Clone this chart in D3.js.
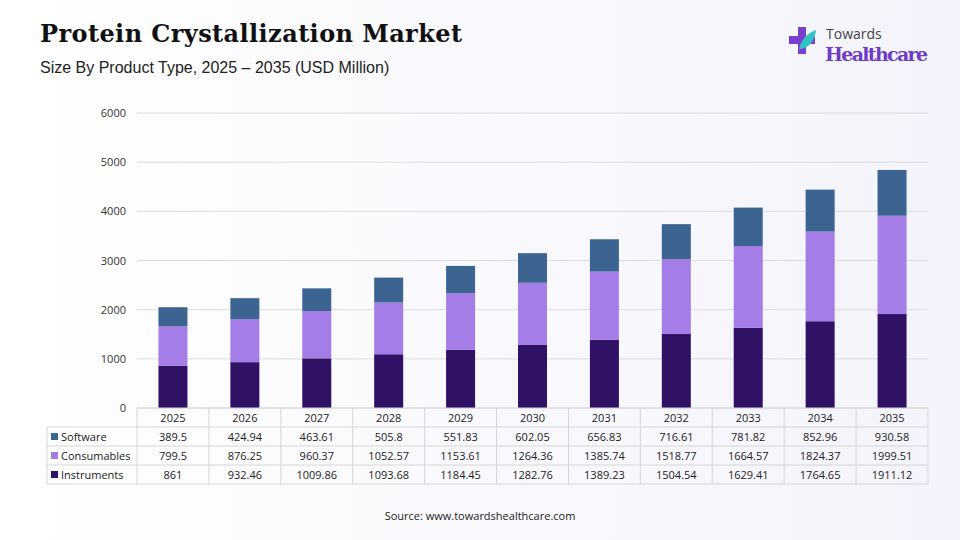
<!DOCTYPE html>
<html><head><meta charset="utf-8">
<script src="https://cdn.jsdelivr.net/npm/d3@7"></script>
<style>body{margin:0;background:#fff}svg{display:block;font-family:"Segoe UI","Open Sans",sans-serif}</style>
</head><body><svg width="960" height="540"></svg>
<script>
const years = ['2025','2026','2027','2028','2029','2030','2031','2032','2033','2034','2035'];
const software = [389.5,424.94,463.61,505.8,551.83,602.05,656.83,716.61,781.82,852.96,930.58];
const consumables = [799.5,876.25,960.37,1052.57,1153.61,1264.36,1385.74,1518.77,1664.57,1824.37,1999.51];
const instruments = [861,932.46,1009.86,1093.68,1184.45,1282.76,1389.23,1504.54,1629.41,1764.65,1911.12];
const seriesNames = ['Software','Consumables','Instruments'];
const colors = ['#3b6590','#a57de6','#2f1266'];
const yTicks = [0,1000,2000,3000,4000,5000,6000];

const svg = d3.select('svg');
const defs = svg.append('defs');
const bg = defs.append('linearGradient').attr('id','bg').attr('x1','0%').attr('x2','100%');
bg.append('stop').attr('offset','0%').attr('stop-color','#ffffff');
bg.append('stop').attr('offset','100%').attr('stop-color','#f3f3fb');
svg.append('rect').attr('width',960).attr('height',540).attr('fill','url(#bg)');

svg.append('text').attr('x',40).attr('y',42).text('Protein Crystallization Market')
  .attr('font-family','Georgia, "DejaVu Serif", serif').attr('font-weight','bold').attr('font-size',24)
  .attr('textLength',422).attr('fill','#111');
svg.append('text').attr('x',40).attr('y',73).text('Size By Product Type, 2025 – 2035 (USD Million)')
  .attr('font-family','"Liberation Sans", Arial, sans-serif').attr('font-size',16).attr('fill','#222');

// logo
const lg = svg.append('g').attr('transform','translate(790,27)');
lg.append('path').attr('d','M8 0h8v9h9v8h-9v10h-8v-10h-9v-8h9z').attr('fill','#7b3fd0');
lg.append('path').attr('d','M9 22 C12 10 20 5 26 3 C25 14 18 22 9 22z').attr('fill','#2ec4c4');
lg.append('text').attr('x',36).attr('y',12).text('Towards').attr('font-size',14).attr('fill','#444');
lg.append('text').attr('x',35).attr('y',34).text('Healthcare').attr('font-family','Georgia, "DejaVu Serif", serif')
  .attr('font-weight','bold').attr('font-size',19).attr('textLength',103).attr('fill','#6e3cc4');

const x0 = 137, x1 = 928;
const x = d3.scaleBand().domain(years).range([x0,x1]);
const y = d3.scaleLinear().domain([0,6000]).range([408,113]);

svg.append('g').selectAll('line').data(yTicks).join('line')
  .attr('x1',x0).attr('x2',x1).attr('y1',d=>y(d)).attr('y2',d=>y(d))
  .attr('stroke','#dcdcdc');
svg.append('g').selectAll('text').data(yTicks).join('text')
  .attr('x',126).attr('y',d=>y(d)+4).attr('text-anchor','end').attr('font-size',11).attr('fill','#333').text(d=>d);

const rows = years.map((yr,i)=>({year:yr,Instruments:instruments[i],Consumables:consumables[i],Software:software[i]}));
const stack = d3.stack().keys(['Instruments','Consumables','Software'])(rows);
const col = {Software:colors[0],Consumables:colors[1],Instruments:colors[2]};
const bw = 29;
svg.append('g').selectAll('g').data(stack).join('g').attr('fill',d=>col[d.key])
  .selectAll('rect').data(d=>d).join('rect')
  .attr('x',d=>x(d.data.year)+x.bandwidth()/2-bw/2).attr('width',bw)
  .attr('y',d=>y(d[1])).attr('height',d=>y(d[0])-y(d[1]));

// data table
const tl = 47, rh = 19, tTop = 408;
const tg = svg.append('g').attr('stroke','#d6d6d6').attr('fill','none');
for (let r=0;r<=4;r++){
  tg.append('line').attr('x1',r===0?x0:tl).attr('x2',x1).attr('y1',tTop+r*rh).attr('y2',tTop+r*rh);
}
tg.append('line').attr('x1',tl).attr('x2',tl).attr('y1',tTop+rh).attr('y2',tTop+4*rh);
years.forEach(yr=>tg.append('line').attr('x1',x(yr)).attr('x2',x(yr)).attr('y1',tTop).attr('y2',tTop+4*rh));
tg.append('line').attr('x1',x1).attr('x2',x1).attr('y1',tTop).attr('y2',tTop+4*rh);

svg.append('g').selectAll('text').data(years).join('text')
  .attr('x',d=>x(d)+x.bandwidth()/2).attr('y',tTop+14).attr('text-anchor','middle').attr('font-size',11).attr('fill','#222').text(d=>d);
const vals = [software,consumables,instruments];
seriesNames.forEach((name,r)=>{
  const cy = tTop+(r+1)*rh;
  svg.append('rect').attr('x',tl+4).attr('y',cy+6).attr('width',7).attr('height',7).attr('fill',colors[r]);
  svg.append('text').attr('x',tl+14).attr('y',cy+14).attr('font-size',11).attr('fill','#222').text(name);
  svg.append('g').selectAll('text').data(vals[r]).join('text')
    .attr('x',(d,i)=>x(years[i])+x.bandwidth()/2).attr('y',cy+14).attr('text-anchor','middle')
    .attr('font-size',11).attr('fill','#222').text(d=>d);
});

svg.append('text').attr('x',480).attr('y',520).attr('text-anchor','middle').attr('font-size',11).attr('fill','#222')
  .text('Source: www.towardshealthcare.com');
</script></body></html>
